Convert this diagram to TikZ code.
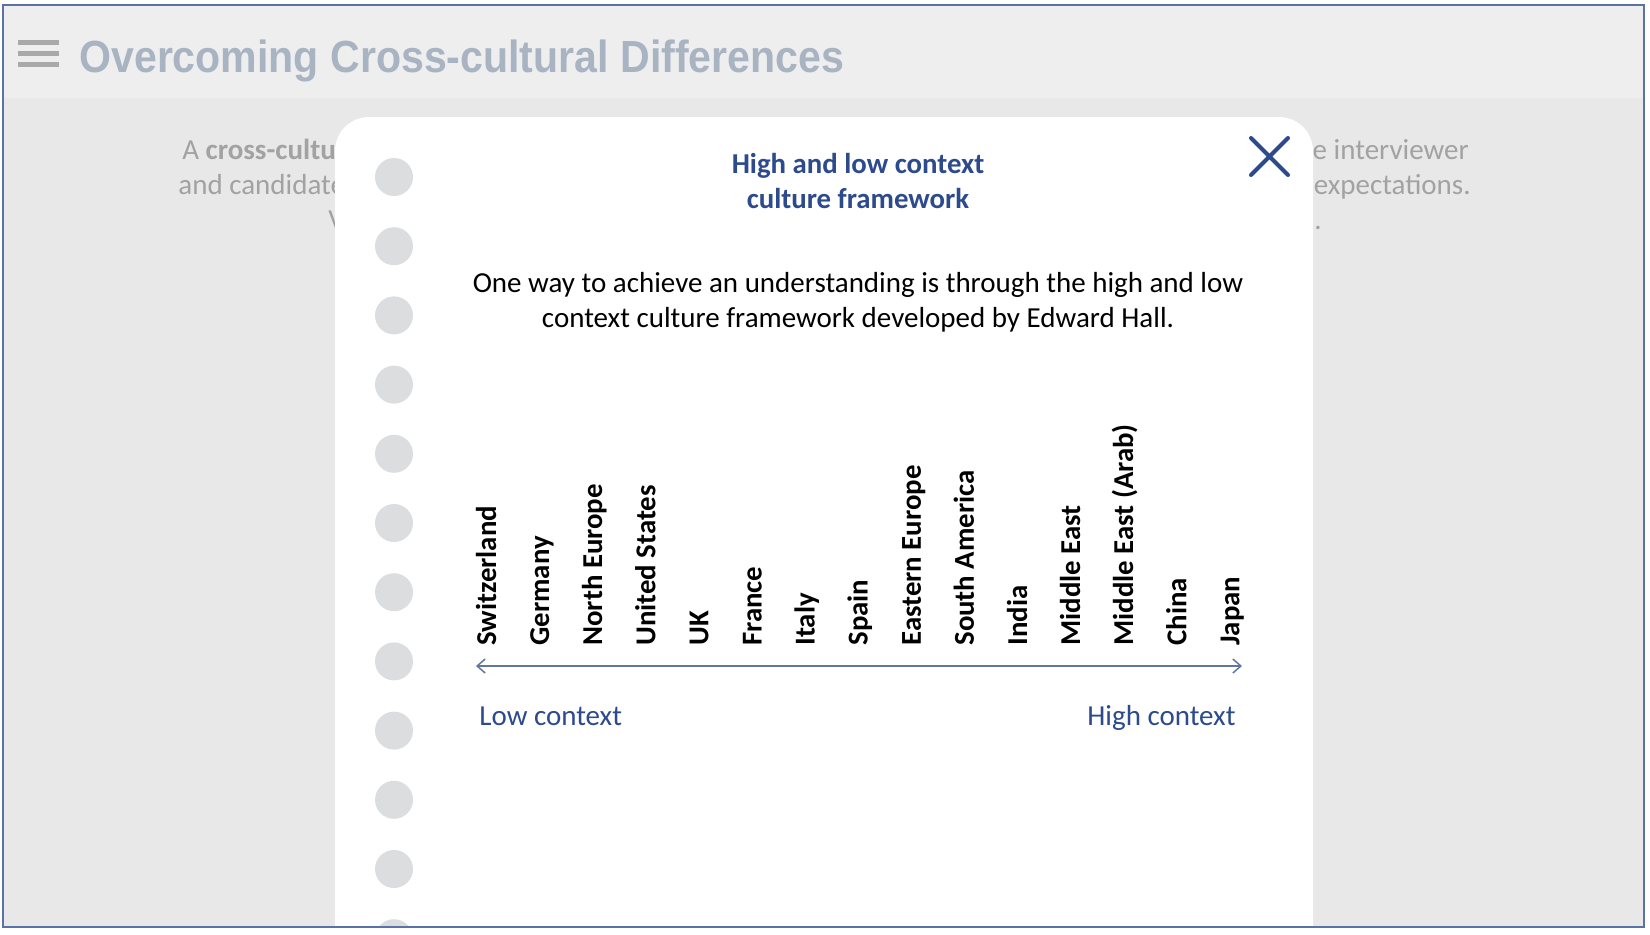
\documentclass[tikz,border=0pt]{standalone}
\usepackage{fontspec}
\setmainfont{Carlito}
\newfontfamily\titlefont{Liberation Sans}
\usetikzlibrary{positioning,arrows.meta}

\definecolor{frameblue}{HTML}{5A72A8}
\definecolor{headgray}{HTML}{EEEEEE}
\definecolor{bodygray}{HTML}{E8E8E8}
\definecolor{titlegray}{HTML}{A9B4C3}
\definecolor{bargray}{HTML}{A9A9A9}
\definecolor{textgray}{HTML}{A2A2A2}
\definecolor{dotgray}{HTML}{DCDDDF}
\definecolor{navy}{HTML}{2C4A8C}
\definecolor{axisblue}{HTML}{62779F}

\begin{document}
\begin{tikzpicture}[x=0.5pt, y=-0.5pt, font=\fontsize{14.5}{17.3}\selectfont, >={Straight Barb[length=4pt,width=7pt]}]

	% Stili per fori, paesi e testi di sfondo
	\tikzset{
		hole/.style={
			circle,
			fill=dotgray,
			inner sep=0,
			minimum size=19pt
		},
		country/.style={
			rotate=90,
			anchor=base west,
			inner sep=0,
			font=\fontsize{14.4}{17.3}\selectfont\bfseries
		},
		bgtext/.style={
			anchor=base west,
			inner sep=0,
			text=textgray
		}
	}

	% Sfondo della pagina
	\useasboundingbox (0,0) rectangle (1650,934);
	\fill[white] (0,0) rectangle (1650,934);
	\fill[bodygray] (3,5) rectangle (1644,927);
	\fill[headgray] (3,5) rectangle (1644,98);

	% Icona del menu e titolo
	\foreach \y in {40,51,62}
		\fill[bargray] (18,\y) rectangle (59,\y+5);
	\node[anchor=base west, inner sep=0, text=titlegray, xscale=0.913,
		font=\titlefont\bfseries\fontsize{22.5}{27}\selectfont] (title) at (79,72) {Overcoming Cross-cultural Differences};

	% Testo della pagina, coperto dalla scheda
	\begin{scope}
		\clip (0,0) rectangle (335,934);
		\node[bgtext] (bgA) at (182,159) {A \textbf{cross-cultural}};
		\node[bgtext] (bgB) at (178,194) {and candidates};
		\node[bgtext] (bgC) at (328,229) {V};
	\end{scope}
	\node[bgtext, anchor=base east] (bgD) at (1469,159) {e interviewer};
	\node[bgtext, anchor=base east] (bgE) at (1471,194) {expectations.};
	\node[bgtext] (bgF) at (1314,229) {.};

	% Scheda bianca con i fori
	\begin{scope}
		\clip (3,5) rectangle (1644,927);
		\fill[white, rounded corners=17pt] (335,927) -- (335,117) -- (1313,117) -- (1313,927);
		\foreach \i in {0,...,11}
			\node[hole] (hole\i) at (394,{177+69.2*\i}) {};
	\end{scope}

	% Chiusura
	\draw[navy, line width=2pt, line cap=round] (1251,138) -- (1288,175) (1288,138) -- (1251,175);

	% Titolo e introduzione (ancorati all'ultima riga)
	\node[anchor=base, align=center, text=navy, font=\fontsize{14.4}{17.3}\selectfont\bfseries] (heading) at (858,208) {High and low context\\culture framework};
	\node[anchor=base, align=center] (intro) at (858,327) {One way to achieve an understanding is through the high and low\\context culture framework developed by Edward Hall.};

	% Paesi, dal contesto basso al contesto alto
	\foreach \name [count=\i from 0] in {Switzerland, Germany, North Europe, United States, UK, France, Italy, Spain, Eastern Europe, South America, India, Middle East, {Middle East (Arab)}, China, Japan}
		\node[country] (c\i) at ({496+53.1*\i},646) {\name};

	% Asse
	\coordinate (lo) at (476,666);
	\coordinate (hi) at (1242,666);
	\draw[<->, axisblue, line width=0.75pt] (lo) -- (hi);
	\node[anchor=base west, inner sep=0, text=navy] (low) at (479,725) {Low context};
	\node[anchor=base east, inner sep=0, text=navy] (high) at (1236,725) {High context};

	% Cornice
	\draw[frameblue, line width=1pt] (3,5) rectangle (1644,927);

\end{tikzpicture}
\end{document}
